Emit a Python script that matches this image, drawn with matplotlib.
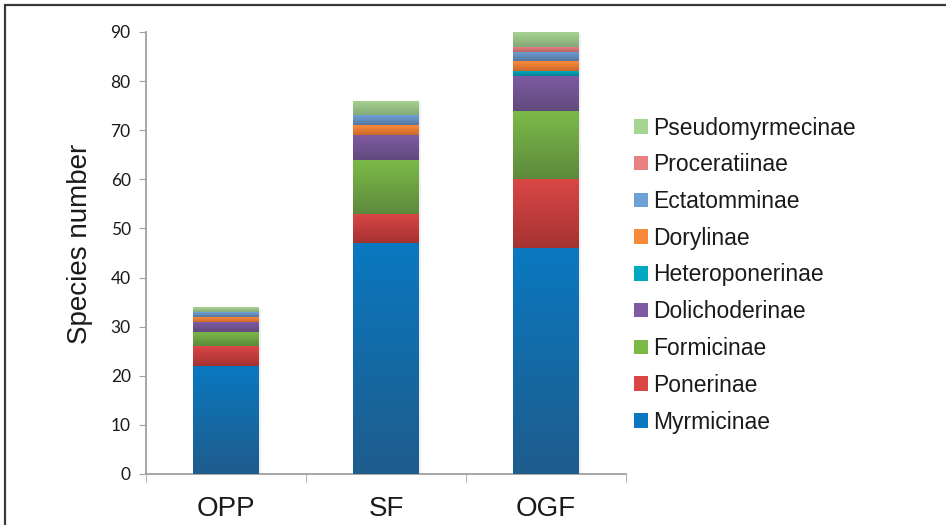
import numpy as np
import matplotlib
matplotlib.use('Agg')
import matplotlib.pyplot as plt
from matplotlib.colors import LinearSegmentedColormap
from matplotlib.patches import Rectangle

# Data
sites = ['OPP', 'SF', 'OGF']
subfamilies = ['Myrmicinae', 'Ponerinae', 'Formicinae', 'Dolichoderinae', 'Heteroponerinae',
               'Dorylinae', 'Ectatomminae', 'Proceratiinae', 'Pseudomyrmecinae']
myrmicinae = [22, 47, 46]
ponerinae = [4, 6, 14]
formicinae = [3, 11, 14]
dolichoderinae = [2, 5, 7]
heteroponerinae = [0, 0, 1]
dorylinae = [1, 2, 2]
ectatomminae = [1, 2, 2]
proceratiinae = [0, 0, 1]
pseudomyrmecinae = [1, 3, 3]
counts = [myrmicinae, ponerinae, formicinae, dolichoderinae, heteroponerinae,
          dorylinae, ectatomminae, proceratiinae, pseudomyrmecinae]

# (top, bottom) gradient colours
colors = [('#0A78C0', '#1E5C8C'), ('#DA4646', '#A63232'), ('#7CBA48', '#5E8A3C'),
          ('#7E5AA4', '#614A7C'), ('#00A8C2', '#0A7F94'), ('#F8893A', '#CC6A2A'),
          ('#6EA0D8', '#55779E'), ('#E88282', '#B86262'), ('#A6D592', '#86A878')]

fig = plt.figure(figsize=(9.46, 5.25), dpi=100)
ax = fig.add_axes([146/946, 51/525, 480/946, 442/525])

width = 0.41
x = np.arange(len(sites))
bottom = np.zeros(len(sites))
handles = []
for name, vals, (ctop, cbot) in zip(subfamilies, counts, colors):
    vals = np.array(vals, dtype=float)
    bars = ax.bar(x, vals, width, bottom=bottom, color=ctop, linewidth=0, zorder=2)
    cmap = LinearSegmentedColormap.from_list(name, [cbot, ctop])
    grad = np.linspace(0, 1, 64).reshape(-1, 1)
    for b, v, b0 in zip(bars, vals, bottom):
        if v <= 0:
            continue
        # soft shadow
        ax.add_patch(Rectangle((b.get_x() + 0.012, b0 - 0.5), width, v, color='#000000',
                               alpha=0.06, linewidth=0, zorder=1))
        im = ax.imshow(grad, cmap=cmap, origin='lower', aspect='auto',
                       extent=(b.get_x(), b.get_x() + width, b0, b0 + v), zorder=3)
        im.set_clip_path(b)
    handles.append(bars)
    bottom += vals

ax.set_xlim(-0.5, 2.5)
ax.set_ylim(0, 90)
ax.set_yticks(range(0, 91, 10))
ax.set_xticks(x)
ax.set_xticklabels(sites, fontsize=20, family='Liberation Sans', color='#1A1A1A')
ax.set_xticks([-0.5, 0.5, 1.5, 2.5], minor=True)
ax.tick_params(axis='x', which='major', length=0, pad=16)
ax.tick_params(axis='x', which='minor', length=6, color='#A0A0A0', direction='out')
ax.tick_params(axis='y', length=5, color='#A0A0A0', direction='out', pad=6, labelsize=12.5,
               labelcolor='#1A1A1A')
for lab in ax.get_yticklabels():
    lab.set_family('Lato')
for s in ['top', 'right']:
    ax.spines[s].set_visible(False)
for s in ['left', 'bottom']:
    ax.spines[s].set_color('#A0A0A0')
    ax.spines[s].set_linewidth(1.3)

ax.set_ylabel('Species number', fontsize=20, family='Liberation Sans', color='#1A1A1A')
ax.yaxis.set_label_coords(-0.11, 0.52)

leg = fig.legend(handles[::-1], subfamilies[::-1], loc='center left',
                 bbox_to_anchor=(634/946, 1 - 275/525), frameon=False,
                 prop={'family': 'Liberation Sans', 'size': 16.5},
                 handlelength=0.6, handleheight=0.6, handletextpad=0.25,
                 labelspacing=0.6, borderpad=0, borderaxespad=0)
for t in leg.get_texts():
    t.set_color('#1A1A1A')

# outer frame (left and top edges visible)
fig.add_artist(Rectangle((5/946, -0.1), 1.2, 1 - 5/525 + 0.1, transform=fig.transFigure,
                         fill=False, edgecolor='#3A3A3A', linewidth=1.6))

fig.savefig('out.png', dpi=100)
